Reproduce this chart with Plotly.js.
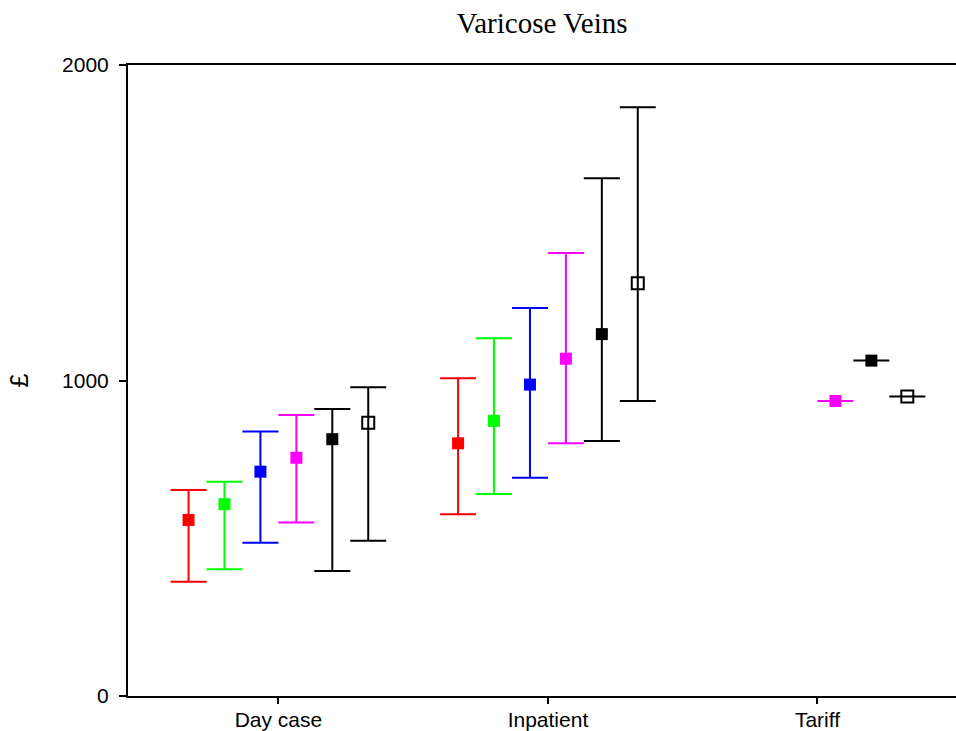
<!DOCTYPE html>
<html>
<head>
<meta charset="utf-8">
<script src="https://cdn.plot.ly/plotly-3.0.1.min.js"></script>
<style>html,body{margin:0;padding:0;background:#fff;}</style>
</head>
<body>
<div id="chart" style="width:956px;height:731px;"></div>
<script>
// Categories on the x axis
const categories = ["Day case", "Inpatient", "Tariff"];

// Series (order left to right within each category)
const seriesNames = ["Series 1", "Series 2", "Series 3", "Series 4", "Series 5", "Series 6"];
const seriesColors = ["#FF0000", "#00FF00", "#0000FF", "#FF00FF", "#000000", "#000000"];
const seriesSymbols = ["square", "square", "square", "square", "square", "square-open"];

// Mean values per series [Day case, Inpatient, Tariff]
const mean1 = [558, 801, null];
const mean2 = [608, 872, null];
const mean3 = [711, 987, null];
const mean4 = [755, 1069, 935];
const mean5 = [814, 1147, 1063];
const mean6 = [866, 1308, 949];

// Lower interval bounds
const low1 = [362, 576, null];
const low2 = [402, 640, null];
const low3 = [486, 692, null];
const low4 = [550, 801, 935];
const low5 = [396, 808, 1063];
const low6 = [492, 935, 949];

// Upper interval bounds
const up1 = [653, 1007, null];
const up2 = [679, 1134, null];
const up3 = [838, 1230, null];
const up4 = [891, 1404, 935];
const up5 = [910, 1641, 1063];
const up6 = [979, 1866, 949];

const yTicks = [0, 1000, 2000];

const means = [mean1, mean2, mean3, mean4, mean5, mean6];
const lows = [low1, low2, low3, low4, low5, low6];
const ups = [up1, up2, up3, up4, up5, up6];

const groupWidth = 0.8;
const slot = groupWidth / seriesNames.length;

const traces = seriesNames.map((name, i) => {
  const x = categories.map((c, ci) => ci + (i - (seriesNames.length - 1) / 2) * slot);
  const m = means[i];
  return {
    type: "scatter",
    mode: "markers",
    name: name,
    x: x,
    y: m,
    marker: {
      symbol: seriesSymbols[i],
      size: 12,
      color: seriesColors[i],
      line: {width: seriesSymbols[i] === "square-open" ? 2 : 0, color: seriesColors[i]}
    },
    error_y: {
      type: "data",
      symmetric: false,
      array: m.map((v, k) => v === null ? null : ups[i][k] - v),
      arrayminus: m.map((v, k) => v === null ? null : v - lows[i][k]),
      color: seriesColors[i],
      thickness: 2,
      width: 18
    },
    showlegend: false,
    hoverinfo: "x+y"
  };
});

const layout = {
  width: 956,
  height: 731,
  margin: {l: 128, r: 0, t: 65, b: 35},
  paper_bgcolor: "#ffffff",
  plot_bgcolor: "#ffffff",
  font: {family: "Liberation Sans, Arial, sans-serif", color: "#000000", size: 21},
  title: {
    text: "Varicose Veins",
    font: {family: "Liberation Serif, Times New Roman, serif", size: 29, color: "#000000"},
    x: 0.5,
    xref: "paper",
    xanchor: "center",
    y: 1 - 23 / 731,
    yref: "container",
    yanchor: "middle"
  },
  xaxis: {
    range: [-0.558, 2.514],
    tickvals: categories.map((c, i) => i),
    ticktext: categories,
    showline: true,
    linewidth: 2,
    linecolor: "#000000",
    mirror: true,
    ticks: "outside",
    ticklen: 6,
    tickwidth: 2,
    tickcolor: "#000000",
    ticklabelstandoff: -2,
    showgrid: false,
    zeroline: false,
    tickfont: {family: "Liberation Sans, Arial, sans-serif", size: 21, color: "#000000"}
  },
  yaxis: {
    range: [0, 2000],
    tickvals: yTicks,
    ticktext: yTicks.map(String),
    showline: true,
    linewidth: 2,
    linecolor: "#000000",
    ticks: "outside",
    ticklen: 7,
    tickwidth: 2,
    tickcolor: "#000000",
    ticklabelstandoff: 6,
    showgrid: false,
    zeroline: false,
    tickfont: {family: "Liberation Sans, Arial, sans-serif", size: 21, color: "#000000"},
    title: {
      text: "£",
      font: {family: "Liberation Sans, Arial, sans-serif", size: 25, color: "#000000"},
      standoff: 26
    },
    automargin: false
  }
};

Plotly.newPlot("chart", traces, layout, {displayModeBar: false, staticPlot: true});
</script>
</body>
</html>
